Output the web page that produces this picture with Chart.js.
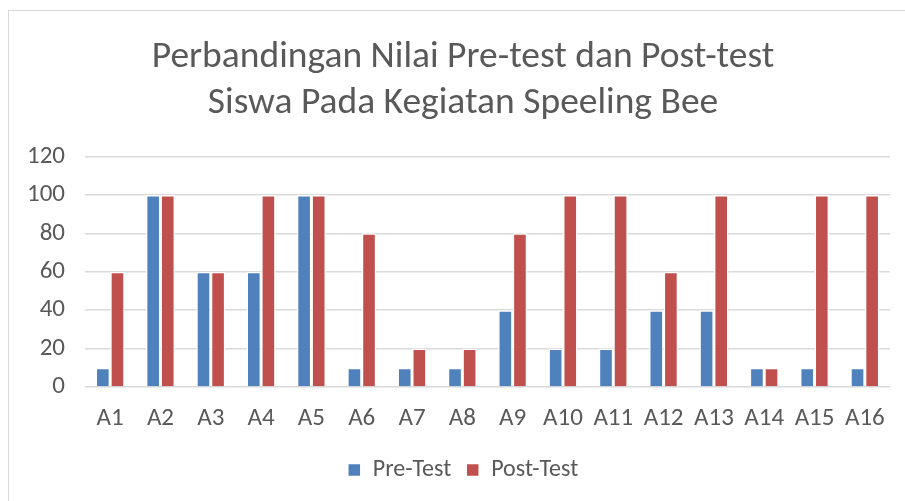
<!DOCTYPE html>
<html lang="id">
<head>
    <meta charset="UTF-8">
    <title>Perbandingan Nilai Pre-test dan Post-test</title>
    <script src="https://cdn.jsdelivr.net/npm/chart.js"></script>
    <style>
        body {
            margin: 0;
            padding: 0;
            background: #fff;
            overflow: hidden;
        }

        .frame {
            position: absolute;
            left: 8px;
            top: 10px;
            width: 910px;
            height: 510px;
            border: 1px solid #d9d9d9;
            box-sizing: border-box;
        }

        .chart-box {
            position: absolute;
            left: 0;
            top: 0;
            width: 905px;
            height: 501px;
        }
    </style>
</head>
<body>
    <div class="frame"></div>
    <div class="chart-box">
        <canvas id="scoreChart"></canvas>
    </div>

    <script>
        const students = ['A1', 'A2', 'A3', 'A4', 'A5', 'A6', 'A7', 'A8',
            'A9', 'A10', 'A11', 'A12', 'A13', 'A14', 'A15', 'A16'];
        const preTest = [10, 100, 60, 60, 100, 10, 10, 10, 40, 20, 20, 40, 40, 10, 10, 10];
        const postTest = [60, 100, 60, 100, 100, 80, 20, 20, 80, 100, 100, 60, 100, 10, 100, 100];

        const textColor = '#595959';
        const fontFamily = "Carlito, 'Open Sans', 'Noto Sans', sans-serif";

        const ctx = document.getElementById('scoreChart').getContext('2d');
        new Chart(ctx, {
            type: 'bar',
            data: {
                labels: students,
                datasets: [{
                    label: 'Pre-Test',
                    data: preTest,
                    backgroundColor: '#4f81bd',
                    borderColor: '#ffffff',
                    borderWidth: 1.5,
                    categoryPercentage: 0.58,
                    barPercentage: 1
                }, {
                    label: 'Post-Test',
                    data: postTest,
                    backgroundColor: '#c0504d',
                    borderColor: '#ffffff',
                    borderWidth: 1.5,
                    categoryPercentage: 0.58,
                    barPercentage: 1
                }]
            },
            options: {
                responsive: true,
                maintainAspectRatio: false,
                animation: false,
                layout: {
                    padding: { left: 36, right: 15, top: 35, bottom: 9 }
                },
                plugins: {
                    title: {
                        display: true,
                        text: ['Perbandingan Nilai Pre-test dan Post-test', 'Siswa Pada Kegiatan Speeling Bee'],
                        color: textColor,
                        font: { family: fontFamily, size: 37.5, weight: 'normal', lineHeight: 1.22 },
                        padding: { top: 0, bottom: 30 }
                    },
                    legend: {
                        position: 'bottom',
                        labels: {
                            color: textColor,
                            font: { family: fontFamily, size: 24 },
                            boxWidth: 13,
                            boxHeight: 13,
                            padding: 15,
                            useBorderRadius: false
                        }
                    },
                    tooltip: { enabled: false }
                },
                scales: {
                    x: {
                        grid: { display: false },
                        border: { display: false },
                        ticks: {
                            color: textColor,
                            font: { family: fontFamily, size: 25 },
                            padding: 9,
                            maxRotation: 0
                        }
                    },
                    y: {
                        min: 0,
                        max: 120,
                        grid: { color: '#d9d9d9', lineWidth: 1.5, drawTicks: false },
                        border: { display: false },
                        // keep the plot starting at x=85 while the title stays centred on the frame
                        afterFit: (axis) => { axis.width = 49; },
                        ticks: {
                            stepSize: 20,
                            color: textColor,
                            font: { family: fontFamily, size: 25 },
                            mirror: true,
                            crossAlign: 'far',
                            padding: -58
                        }
                    }
                }
            }
        });
    </script>
</body>
</html>
